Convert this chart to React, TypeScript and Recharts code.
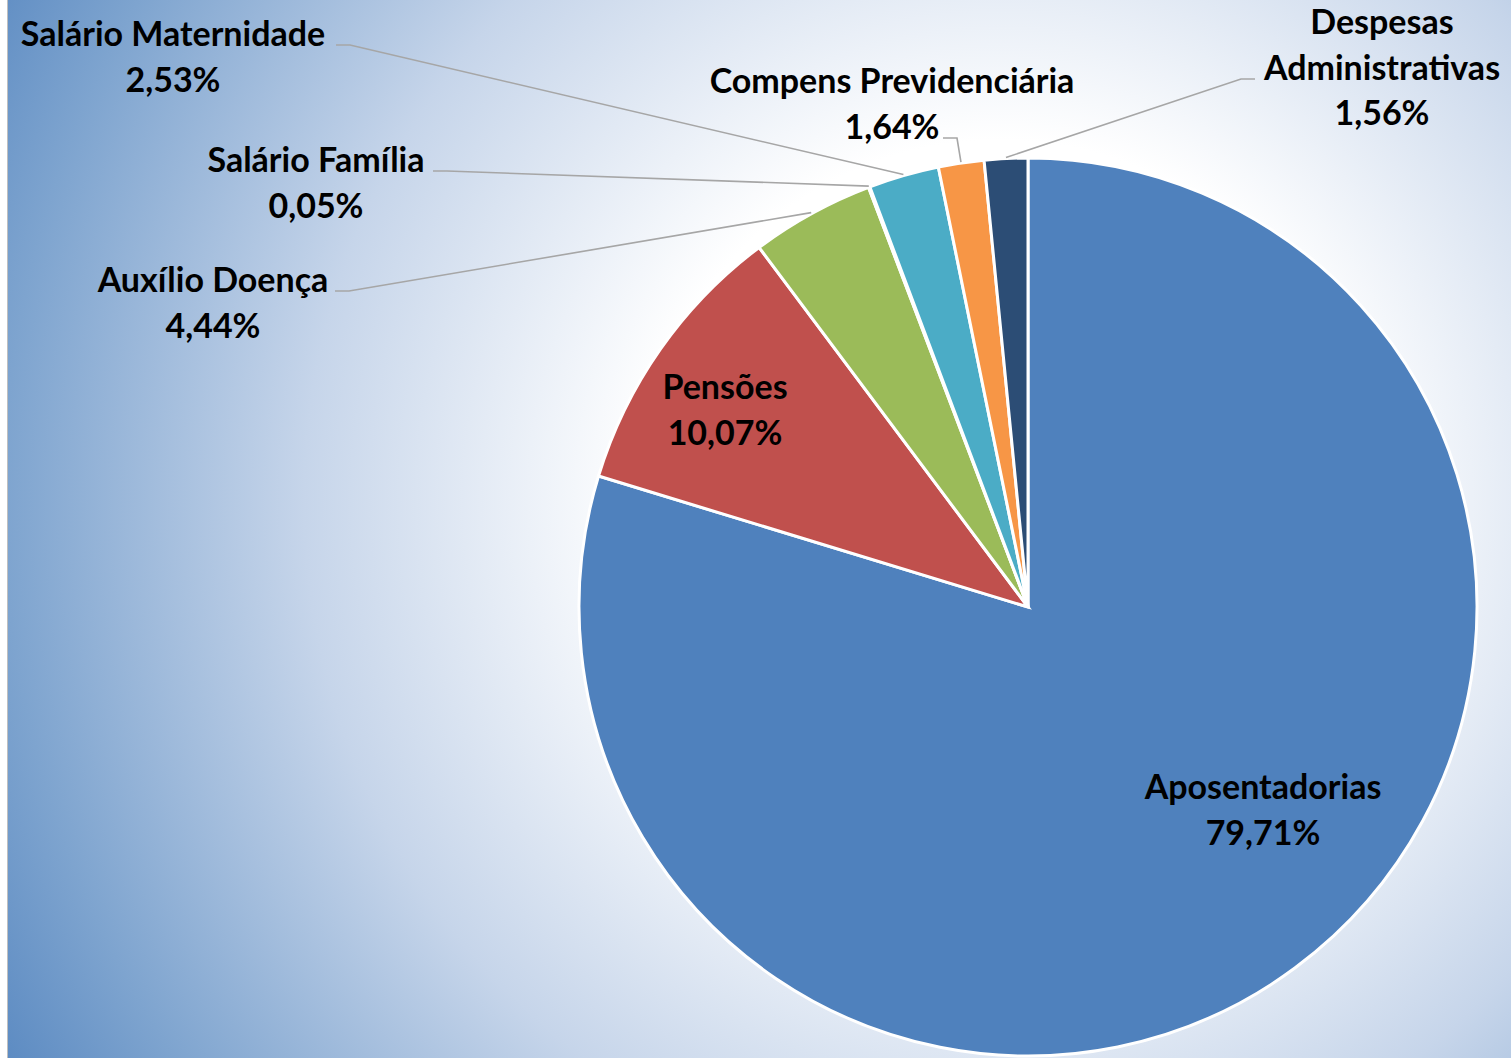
import { PieChart, Pie, Cell } from "recharts"

const categories = [
  "Aposentadorias",
  "Pensões",
  "Auxílio Doença",
  "Salário Família",
  "Salário Maternidade",
  "Compens Previdenciária",
  "Despesas Administrativas",
]
const shares = [79.71, 10.07, 4.44, 0.05, 2.53, 1.64, 1.56]
const sliceColors = ["#4F81BD", "#C0504D", "#9BBB59", "#8064A2", "#4BACC6", "#F79646", "#2C4D75"]

const data = categories.map((name, i) => ({ name, value: shares[i] }))

// label placement, offsets from the pie centre (anchor = where the leader meets the text)
type Spot = { dx: number; dy: number; anchor?: [number, number]; wrap?: boolean }
const LABEL_SPOTS: Spot[] = [
  { dx: 235, dy: 180 },
  { dx: -303, dy: -220 },
  { dx: -815, dy: -327, anchor: [-693, -316] },
  { dx: -712, dy: -447, anchor: [-595, -436] },
  { dx: -855, dy: -573, anchor: [-692, -562] },
  { dx: -136, dy: -526, anchor: [-85, -469] },
  { dx: 354, dy: -585, anchor: [227, -528], wrap: true },
]

const RAD = Math.PI / 180
const LINE_H = 45.5
const fmt = (v: number) => v.toFixed(2).replace(".", ",") + "%"

function renderLabel(props: any) {
  const { cx, cy, midAngle, outerRadius, index } = props
  const name: string = props.name ?? props.payload?.name
  const value: number = props.value ?? props.payload?.value
  const spot = LABEL_SPOTS[index]
  const lines = spot.wrap ? name.split(" ") : [name]
  lines.push(fmt(value))
  const x = cx + spot.dx
  const y0 = cy + spot.dy

  let leader = null
  if (spot.anchor) {
    const ex = cx + (outerRadius + 1) * Math.cos(-midAngle * RAD)
    const ey = cy + (outerRadius + 1) * Math.sin(-midAngle * RAD)
    const ax = cx + spot.anchor[0]
    const ay = cy + spot.anchor[1]
    const bx = ax + (ex > ax ? 14 : -14)
    leader = (
      <polyline
        points={`${ax},${ay} ${bx},${ay} ${ex},${ey}`}
        fill="none"
        stroke="#a6a6a6"
        strokeWidth={1.6}
      />
    )
  }

  return (
    <g key={`lbl-${index}`}>
      {leader}
      <text
        textAnchor="middle"
        fill="#000"
        fontFamily="Lato, 'Open Sans', sans-serif"
        fontWeight={700}
        fontSize={34}
      >
        {lines.map((l, i) => (
          <tspan key={i} x={x} y={y0 + i * LINE_H + 12}>
            {l}
          </tspan>
        ))}
      </text>
    </g>
  )
}

export default function App() {
  return (
    <div
      style={{
        position: "absolute",
        left: 7,
        top: 0,
        width: 1503,
        height: 1058,
        borderLeft: "1px solid #bfbfbf",
        background:
          "radial-gradient(circle 1200px at 992px 500px, #ffffff 0%, #ffffff 30%, #c6d5ea 58%, #7ea4cf 83%, #4f81bd 100%)",
      }}
    >
      <PieChart width={1503} height={1058} margin={{ top: 0, right: 0, bottom: 0, left: 0 }}>
        <Pie
          data={data}
          dataKey="value"
          nameKey="name"
          cx={1020}
          cy={607}
          outerRadius={449}
          startAngle={90}
          endAngle={-270}
          stroke="#ffffff"
          strokeWidth={3}
          label={renderLabel}
          labelLine={false}
          isAnimationActive={false}
        >
          {data.map((d, i) => (
            <Cell key={d.name} fill={sliceColors[i]} />
          ))}
        </Pie>
      </PieChart>
    </div>
  )
}
